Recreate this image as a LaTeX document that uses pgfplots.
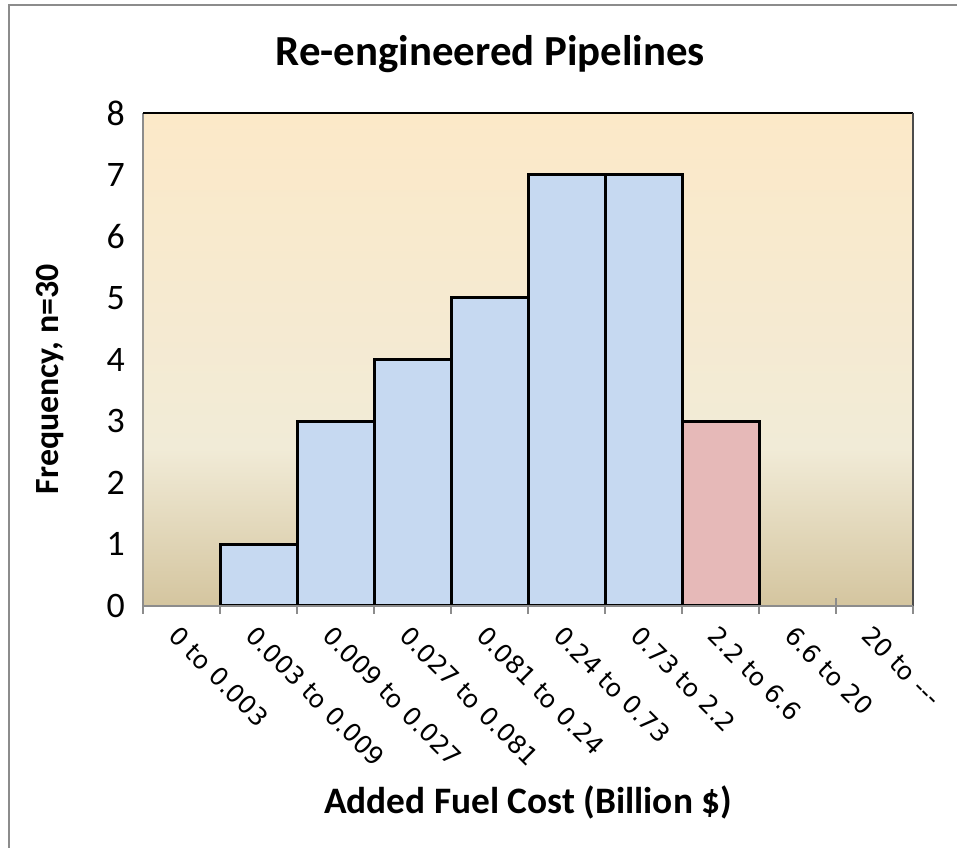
\documentclass[border=0pt]{standalone}
\usepackage{pgfplots}
\pgfplotsset{compat=1.18}
\usepackage{fontspec}
\setmainfont{Carlito}
\newfontfamily\verd{DejaVu Sans}
\definecolor{barblue}{HTML}{C6D9F1}
\definecolor{barpink}{HTML}{E6B9B8}
\definecolor{bgtop}{HTML}{FCE9C8}
\definecolor{bgmid}{HTML}{F1EBD7}
\definecolor{bgbot}{HTML}{D4C59F}
\definecolor{axgray}{HTML}{8C8C8C}
\pgfdeclareverticalshading{bgshade}{100bp}{color(0bp)=(bgbot); color(25bp)=(bgbot); color(41bp)=(bgmid); color(75bp)=(bgtop); color(100bp)=(bgtop)}
\begin{document}
\begin{tikzpicture}
\useasboundingbox (0,0) rectangle (957bp,848bp);
\fill[white] (0,0) rectangle (957bp,848bp);
\draw[axgray, line width=1.5bp] (9bp,0) -- (9bp,843bp) -- (957bp,843bp);
\begin{axis}[
  at={(143bp,242bp)}, anchor=south west,
  scale only axis, width=770bp, height=493bp,
  xmin=-0.5, xmax=9.5, ymin=0, ymax=8,
  axis background/.style={shading=bgshade},
  axis line style={draw=none},
  tick pos=left,
  xtick={0,1,2,3,4,5,6,7,8,9},
  xticklabels={0 to 0.003, 0.003 to 0.009, 0.009 to 0.027, 0.027 to 0.081, 0.081 to 0.24, 0.24 to 0.73, 0.73 to 2.2, 2.2 to 6.6, 6.6 to 20, 20 to ---},
  minor xtick={-0.5,0.5,1.5,2.5,3.5,4.5,5.5,6.5,7.5,8.5,9.5},
  ytick={0,1,2,3,4,5,6,7,8},
  major tick length=0pt,
  minor tick length=16bp,
  tick align=center,
  minor tick style={draw=axgray, line width=1.5bp},
  /pgf/number format/assume math mode=true,
  yticklabel style={font=\fontsize{36}{36}\selectfont, inner sep=0pt, anchor=east, xshift=-18bp},
  xticklabel style={font=\verd\fontsize{25}{25}\selectfont, rotate=-45, anchor=north west, inner sep=0pt, xshift=12bp, yshift=-14bp},
  title={Re-engineered Pipelines},
  title style={font=\bfseries\fontsize{43}{43}\selectfont, at={(0.451,1)}, anchor=base, yshift=42bp},
  xlabel={Added Fuel Cost (Billion \$)},
  xlabel style={font=\bfseries\fontsize{37.5}{37.5}\selectfont, at={(axis description cs:0.5,-0.398)}, anchor=center},
  ylabel={Frequency, n=30},
  ylabel style={font=\bfseries\fontsize{34}{34}\selectfont, at={(axis description cs:-0.121,0.46)}, anchor=center, rotate=0},
  clip=false,
]
\addplot[ybar, bar width=1, bar shift=0pt, fill=barblue, draw=black, line width=3bp]
  coordinates {(1,1) (2,3) (3,4) (4,5) (5,7) (6,7)};
\addplot[ybar, bar width=1, bar shift=0pt, fill=barpink, draw=black, line width=3bp]
  coordinates {(7,3)};
\draw[axgray, line width=1.5bp] (rel axis cs:0,0) -- (rel axis cs:0,1);
\draw[black, line width=1.5bp] (rel axis cs:0,1) -- (rel axis cs:1,1);
\draw[black!70, line width=1.5bp] (rel axis cs:1,1) -- (rel axis cs:1,0);
\draw[axgray, line width=1.5bp] (rel axis cs:0,0) -- (rel axis cs:1,0);
\end{axis}
\end{tikzpicture}
\end{document}
